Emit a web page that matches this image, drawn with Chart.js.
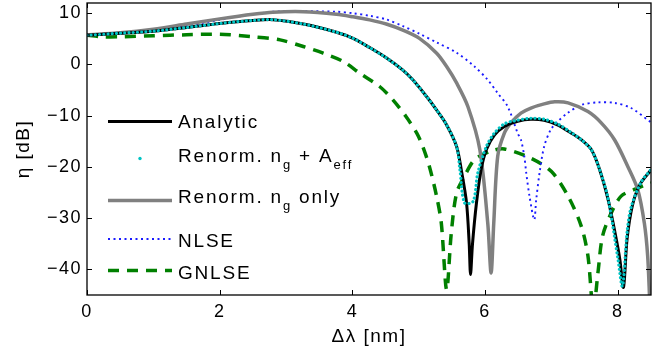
<!DOCTYPE html>
<html>
<head>
<meta charset="utf-8">
<script src="https://cdn.jsdelivr.net/npm/chart.js@4.4.0/dist/chart.umd.min.js"></script>
<style>
  html, body { margin: 0; padding: 0; background: #fff; }
  #wrap { width: 669px; height: 358px; }
</style>
</head>
<body>
<div id="wrap"><canvas id="chart"></canvas></div>
<script>
// tick labels
const xTicks = [0, 2, 4, 6, 8];
const yTicks = [-40, -30, -20, -10, 0, 10];

// Analytic
const analyticX = [0, 0.5, 1.0, 1.5, 2.0, 2.5, 2.8, 3.26, 3.76, 4.01, 4.26, 4.51, 4.76, 4.91, 5.12, 5.27, 5.42, 5.57, 5.64, 5.72, 5.76, 5.78, 5.81, 5.87, 5.94, 6.02, 6.14, 6.29, 6.49, 6.69, 6.89, 7.09, 7.30, 7.45, 7.60, 7.72, 7.85, 7.96, 8.03, 8.085, 8.14, 8.22, 8.33, 8.5];
const analyticY = [5.7, 6.1, 6.5, 7.2, 8.0, 8.6, 8.75, 7.9, 6.3, 5.1, 3.3, 1.3, -1.1, -3.0, -6.3, -8.9, -11.8, -16.0, -20.5, -27, -35, -41, -35, -27, -20.5, -16.6, -13.8, -12.1, -11.1, -10.7, -10.9, -11.8, -13.4, -14.7, -16.6, -20.3, -26.2, -33, -38, -43.5, -34, -27.5, -23.5, -20.6];

// Renorm. n_g + A_eff
const renormX = [0, 0.5, 1.0, 1.5, 2.0, 2.5, 2.8, 3.26, 3.76, 4.01, 4.26, 4.51, 4.76, 4.91, 5.12, 5.27, 5.42, 5.57, 5.62, 5.69, 5.82, 5.89, 6.02, 6.14, 6.29, 6.44, 6.69, 6.89, 7.09, 7.30, 7.45, 7.60, 7.72, 7.85, 8.0, 8.07, 8.14, 8.2, 8.35, 8.5];
const renormY = [5.7, 6.1, 6.5, 7.2, 8.0, 8.6, 8.75, 7.9, 6.3, 5.1, 3.3, 1.3, -1.1, -3.0, -6.3, -8.9, -11.8, -16.0, -20.5, -27, -26.7, -21.2, -16.0, -13.4, -11.6, -11.0, -10.5, -10.7, -11.6, -13.3, -14.7, -16.6, -20.3, -26, -37.8, -43.3, -32.7, -27.9, -23, -20.5];

// Renorm. n_g only
const ngOnlyX = [0, 0.5, 1.0, 1.5, 2.0, 2.5, 2.8, 3.26, 3.76, 4.01, 4.26, 4.51, 4.76, 5.01, 5.27, 5.42, 5.57, 5.74, 5.92, 6.04, 6.09, 6.13, 6.19, 6.29, 6.39, 6.54, 6.69, 6.89, 7.05, 7.25, 7.55, 7.75, 7.95, 8.15, 8.3, 8.4, 8.45, 8.48];
const ngOnlyY = [5.8, 6.2, 6.9, 7.9, 8.9, 9.8, 10.2, 10.3, 9.8, 9.3, 8.7, 7.9, 6.7, 5.1, 2.2, -0.4, -3.6, -8.2, -16.6, -31, -40.7, -31, -17.9, -13.4, -11.4, -9.5, -8.5, -7.7, -7.3, -7.5, -9.2, -11.4, -14.7, -19.9, -24.4, -31, -37.4, -46];

// NLSE
const nlseX = [0, 0.5, 1.0, 1.5, 2.0, 2.25, 2.5, 2.8, 3.26, 3.76, 4.01, 4.26, 4.51, 4.76, 5.01, 5.27, 5.57, 5.84, 6.04, 6.19, 6.34, 6.49, 6.54, 6.59, 6.62, 6.67, 6.74, 6.77, 6.82, 6.89, 6.99, 7.09, 7.24, 7.45, 7.70, 7.95, 8.2, 8.5];
const nlseY = [5.7, 6.2, 6.8, 7.6, 8.7, 9.3, 9.8, 10.3, 10.4, 10.3, 10.0, 9.5, 8.8, 7.5, 6.0, 4.3, 2.3, -0.4, -3.0, -5.6, -8.2, -13.4, -14.7, -17.9, -21.2, -25.8, -30.3, -26.4, -21.2, -16.0, -12.7, -11.2, -9.5, -7.9, -7.4, -7.5, -8.5, -11.3];

// GNLSE
const gnlseX = [0, 0.25, 0.5, 1.0, 1.5, 2.0, 2.5, 2.91, 3.26, 3.56, 3.86, 4.11, 4.41, 4.61, 4.81, 4.97, 5.06, 5.16, 5.27, 5.34, 5.42, 5.49, 5.57, 5.69, 5.84, 6.09, 6.29, 6.69, 7.0, 7.25, 7.45, 7.55, 7.63, 7.7, 7.77, 7.9, 8.05, 8.25, 8.5];
const gnlseY = [5.7, 5.4, 5.4, 5.6, 5.8, 5.9, 5.4, 4.8, 3.5, 2.2, 0.6, -1.7, -4.3, -6.9, -10.2, -13.4, -16.0, -19.9, -25.8, -31, -44, -32.9, -25.1, -21.8, -18.6, -16.9, -16.5, -18.3, -20.9, -25.7, -31.6, -37.4, -48, -40.7, -33.5, -29, -25.7, -24.4, -23.1];

// legend text pieces, [text, isSubscript]
const legendParts = [
  [["Analytic", 0]],
  [["Renorm. n", 0], ["g", 1], [" + A", 0], ["eff", 1]],
  [["Renorm. n", 0], ["g", 1], [" only", 0]],
  [["NLSE", 0]],
  [["GNLSE", 0]]
];

const FONT = "'Liberation Sans', Arial, sans-serif";
const pts = (xs, ys) => xs.map((x, i) => ({ x: x, y: ys[i] }));

// box with inward ticks on all four sides
const boxPlugin = {
  id: 'box',
  beforeDraw(chart) {
    chart.ctx.letterSpacing = '1.5px';
  },
  afterDatasetsDraw(chart) {
    const { ctx, chartArea: a, scales } = chart;
    ctx.save();
    ctx.strokeStyle = '#000';
    ctx.lineWidth = 1.3;
    ctx.strokeRect(a.left, a.top, a.right - a.left, a.bottom - a.top);
    ctx.lineWidth = 1;
    ctx.beginPath();
    xTicks.forEach(v => {
      const px = Math.round(scales.x.getPixelForValue(v)) + 0.5;
      ctx.moveTo(px, a.bottom); ctx.lineTo(px, a.bottom - 5);
      ctx.moveTo(px, a.top); ctx.lineTo(px, a.top + 5);
    });
    yTicks.forEach(v => {
      const py = Math.round(scales.y.getPixelForValue(v)) + 0.5;
      ctx.moveTo(a.left, py); ctx.lineTo(a.left + 5, py);
      ctx.moveTo(a.right, py); ctx.lineTo(a.right - 5, py);
    });
    ctx.stroke();
    ctx.restore();
  }
};

// legend drawn inside the plot, with subscripts
const legendPlugin = {
  id: 'insideLegend',
  afterDraw(chart) {
    const ctx = chart.ctx;
    const rows = [
      { line: 121.5, base: 128 },
      { line: 158.5, base: 162 },
      { line: 200.5, base: 203 },
      { line: 239, base: 246.5 },
      { line: 270.5, base: 278.5 }
    ];
    const x0 = 108, x1 = 172, tx = 178;
    ctx.save();
    ctx.letterSpacing = '1.8px';
    chart.data.datasets.forEach((ds, i) => {
      const r = rows[i];
      ctx.strokeStyle = ds.borderColor;
      ctx.lineWidth = ds.borderWidth;
      ctx.lineCap = ds.borderCapStyle || 'butt';
      ctx.setLineDash(ds.borderDash || []);
      ctx.beginPath();
      if (ds.legendDot) {
        ctx.fillStyle = ds.borderColor;
        ctx.arc(140, r.line, 1.7, 0, Math.PI * 2);
        ctx.fill();
      } else {
        ctx.moveTo(x0, r.line); ctx.lineTo(x1, r.line);
        ctx.stroke();
      }
      ctx.setLineDash([]);
      ctx.fillStyle = '#000';
      ctx.textBaseline = 'alphabetic';
      ctx.textAlign = 'left';
      let x = tx;
      legendParts[i].forEach(([t, sub]) => {
        ctx.font = (sub ? '13px ' : '19px ') + FONT;
        ctx.fillText(t, x, sub ? r.base + 7 : r.base);
        x += ctx.measureText(t).width;
      });
    });
    ctx.restore();
  }
};

const fixTicks = arr => scale => { scale.ticks = arr.map(v => ({ value: v })); };

new Chart(document.getElementById('chart'), {
  type: 'line',
  data: {
    datasets: [
      {
        label: 'Analytic',
        data: pts(analyticX, analyticY),
        borderColor: '#000000',
        borderWidth: 3,
        order: 1
      },
      {
        label: 'Renorm. ng + Aeff',
        data: pts(renormX, renormY),
        borderColor: '#00c4c4',
        borderWidth: 3.2,
        borderDash: [0.01, 4.2],
        borderCapStyle: 'round',
        legendDot: true,
        order: 0
      },
      {
        label: 'Renorm. ng only',
        data: pts(ngOnlyX, ngOnlyY),
        borderColor: '#808080',
        borderWidth: 3.5,
        order: 2
      },
      {
        label: 'NLSE',
        data: pts(nlseX, nlseY),
        borderColor: '#1a1aff',
        borderWidth: 1.9,
        borderDash: [2, 3.5],
        order: 3
      },
      {
        label: 'GNLSE',
        data: pts(gnlseX, gnlseY),
        borderColor: '#008000',
        borderWidth: 3.5,
        borderDash: [11, 8],
        order: 4
      }
    ]
  },
  options: {
    responsive: true,
    maintainAspectRatio: false,
    animation: false,
    layout: { padding: { top: 3, right: 18, left: 0, bottom: 0 } },
    elements: {
      point: { radius: 0 },
      line: { tension: 0.3, fill: false }
    },
    plugins: {
      legend: { display: false },
      tooltip: { enabled: false }
    },
    scales: {
      x: {
        type: 'linear',
        min: 0,
        max: 8.5,
        afterBuildTicks: fixTicks(xTicks),
        afterFit: s => { s.height = 63; s.paddingLeft = 0; s.paddingRight = 0; },
        grid: { display: false, drawTicks: false },
        border: { display: false },
        ticks: {
          padding: 6,
          color: '#000',
          font: { family: FONT, size: 18 },
          maxRotation: 0
        },
        title: {
          display: true,
          text: 'Δλ [nm]',
          color: '#000',
          font: { family: FONT, size: 19 },
          padding: { top: 0, bottom: 10 }
        }
      },
      y: {
        min: -45,
        max: 12,
        afterBuildTicks: fixTicks(yTicks),
        afterFit: s => { s.width = 87; s.paddingTop = 0; s.paddingBottom = 0; },
        grid: { display: false, drawTicks: false },
        border: { display: false },
        ticks: {
          padding: 5,
          color: '#000',
          font: { family: FONT, size: 18 },
          callback: v => String(v).replace('-', '\u2212')
        },
        title: {
          display: true,
          text: 'η [dB]',
          color: '#000',
          font: { family: FONT, size: 19 },
          padding: { top: 12, bottom: 0 }
        }
      }
    }
  },
  plugins: [boxPlugin, legendPlugin]
});
</script>
</body>
</html>
